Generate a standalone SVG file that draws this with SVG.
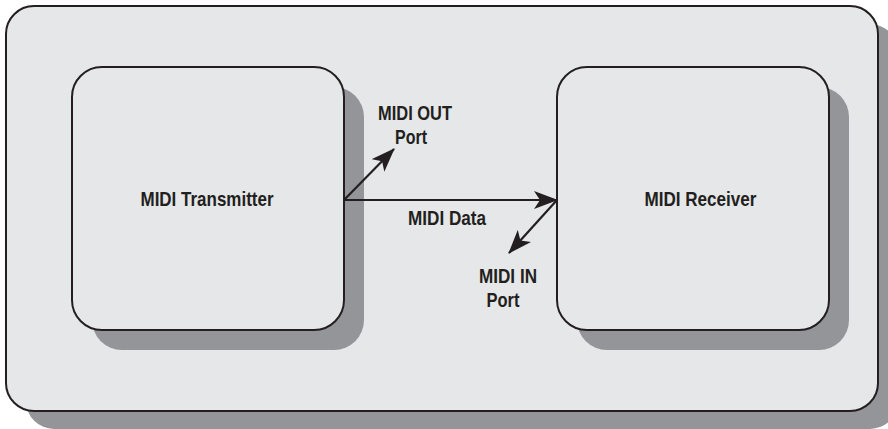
<svg xmlns="http://www.w3.org/2000/svg" width="888" height="429" viewBox="0 0 888 429">
  <defs>
    <style>
      .shadow { fill: #939598; }
      .box { fill: #e6e7e8; stroke: #231f20; stroke-width: 2; }
      .label { font-family: "Liberation Sans", Arial, sans-serif; font-size: 21px; font-weight: bold; fill: #231f20; text-anchor: middle; }
      .wire { stroke: #231f20; stroke-width: 2.2; fill: none; }
    </style>
    <marker id="arrow" viewBox="0 0 24 18" refX="23" refY="9" markerWidth="24" markerHeight="18" markerUnits="userSpaceOnUse" orient="auto">
      <path d="M0,0 L24,9 L0,18 L6,9 Z" fill="#231f20"/>
    </marker>
  </defs>

  <!-- enclosing panel -->
  <g id="system">
    <rect class="shadow" x="26" y="24" width="872" height="405" rx="28"/>
    <rect class="box" x="6" y="6" width="872" height="405" rx="28"/>
  </g>

  <g id="transmitter">
    <rect class="shadow" x="92" y="87" width="272" height="263" rx="30"/>
    <rect class="box" x="72" y="67" width="272" height="263" rx="30"/>
    <text class="label" x="207" y="206" textLength="133" lengthAdjust="spacingAndGlyphs">MIDI Transmitter</text>
  </g>

  <g id="receiver">
    <rect class="shadow" x="577" y="87" width="272" height="263" rx="30"/>
    <rect class="box" x="557" y="67" width="272" height="263" rx="30"/>
    <text class="label" x="700.5" y="206" textLength="112" lengthAdjust="spacingAndGlyphs">MIDI Receiver</text>
  </g>

  <g id="connectors">
    <line class="wire" x1="344" y1="200" x2="557" y2="200" marker-end="url(#arrow)"/>
    <line class="wire" x1="344" y1="200" x2="394" y2="149" marker-end="url(#arrow)"/>
    <line class="wire" x1="557" y1="200" x2="509" y2="253" marker-end="url(#arrow)"/>
    <text class="label" x="447" y="225" textLength="78" lengthAdjust="spacingAndGlyphs">MIDI Data</text>
    <text class="label" x="415" y="120" textLength="74" lengthAdjust="spacingAndGlyphs">MIDI OUT</text>
    <text class="label" x="411" y="144" textLength="32" lengthAdjust="spacingAndGlyphs">Port</text>
    <text class="label" x="508" y="283" textLength="58" lengthAdjust="spacingAndGlyphs">MIDI IN</text>
    <text class="label" x="503" y="307" textLength="33" lengthAdjust="spacingAndGlyphs">Port</text>
  </g>
</svg>
